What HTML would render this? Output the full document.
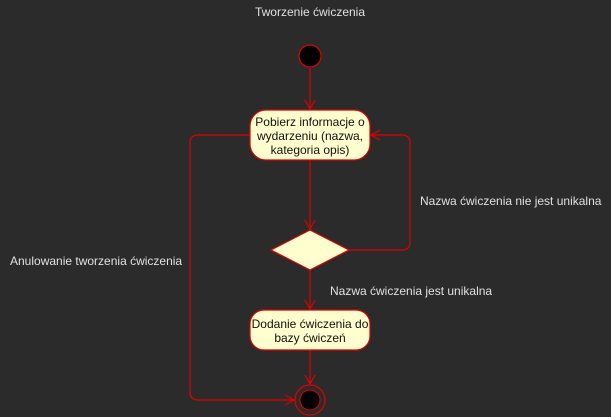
<!DOCTYPE html>
<html><head><meta charset="utf-8"><style>
body{margin:0;background:#2b2b2b;}
svg{display:block;font-family:"Liberation Sans","Noto Sans CJK SC",sans-serif;}
</style></head><body>
<svg width="611" height="417" viewBox="0 0 611 417" xmlns="http://www.w3.org/2000/svg">
<rect width="611" height="417" fill="#2b2b2b"/>
<text x="310" y="16" fill="#e0e0e0" font-size="12" text-anchor="middle">Tworzenie ćwiczenia</text>
<g stroke="#e00000" stroke-width="1.2" fill="none">
<line x1="310" y1="68" x2="310" y2="109"/>
<polyline points="305,100 310,109 315,100"/>
<line x1="310" y1="160" x2="310" y2="229"/>
<polyline points="305,220 310,229 315,220"/>
<line x1="310" y1="270" x2="310" y2="309"/>
<polyline points="305,300 310,309 315,300"/>
<line x1="310" y1="350" x2="310" y2="384"/>
<polyline points="305,375 310,384 315,375"/>
<path d="M250,135 H198 Q190,135 190,143 V392 Q190,400 198,400 H294"/>
<polyline points="285,395 294,400 285,405"/>
<path d="M349,250 H402 Q410,250 410,242 V143 Q410,135 402,135 H371"/>
<polyline points="380,130 371,135 380,140"/>
</g>
<circle cx="310" cy="56" r="11" fill="#000" stroke="#e00000" stroke-width="1.2"/>
<rect x="250" y="110" width="120" height="50" rx="16" fill="#fefece" stroke="#e00000" stroke-width="1.2"/>
<text fill="#111" font-size="12" text-anchor="middle"><tspan x="310" y="126">Pobierz informacje o</tspan><tspan x="310" y="140">wydarzeniu (nazwa,</tspan><tspan x="310" y="154">kategoria opis)</tspan></text>
<polygon points="310,230 349,250 310,270 271,250" fill="#fefece" stroke="#e00000" stroke-width="1.2"/>
<rect x="250" y="310" width="120" height="40" rx="14" fill="#fefece" stroke="#e00000" stroke-width="1.2"/>
<text fill="#111" font-size="12" text-anchor="middle"><tspan x="310" y="328">Dodanie ćwiczenia do</tspan><tspan x="310" y="342">bazy ćwiczeń</tspan></text>
<circle cx="310" cy="400" r="15" fill="none" stroke="#e00000" stroke-width="1.2"/>
<circle cx="310" cy="400" r="10" fill="#000" stroke="#e00000" stroke-width="1"/>
<g fill="#e0e0e0" font-size="12">
<text x="420" y="205">Nazwa ćwiczenia nie jest unikalna</text>
<text x="330" y="295">Nazwa ćwiczenia jest unikalna</text>
<text x="10" y="265">Anulowanie tworzenia ćwiczenia</text>
</g>
</svg>
</body></html>
